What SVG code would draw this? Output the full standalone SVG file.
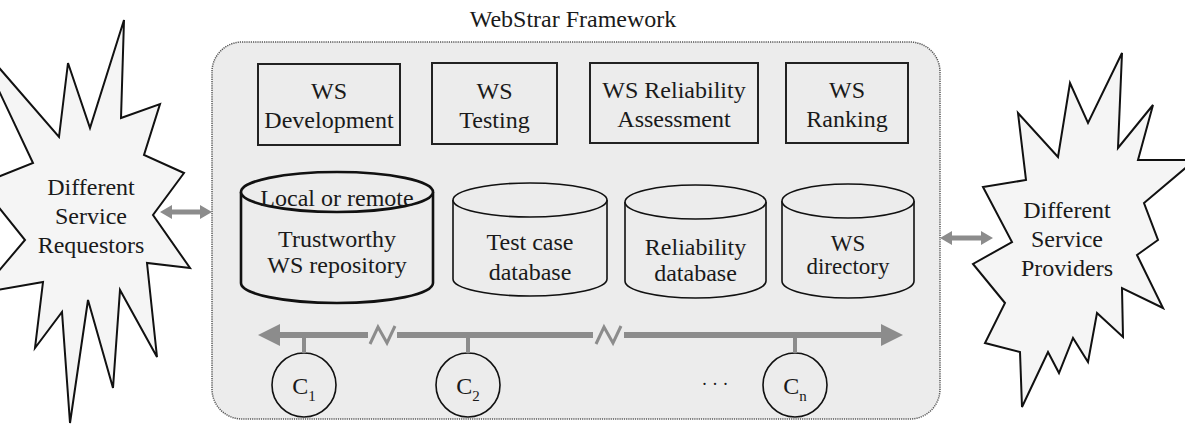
<svg xmlns="http://www.w3.org/2000/svg" width="1185" height="429" viewBox="0 0 1185 429">
<defs>
<style>
text{font-family:'Liberation Serif','Times New Roman','DejaVu Serif',serif;font-size:24px;fill:#1a1a1a;text-anchor:middle}
.star{fill:#f5f5f5;stroke:#111;stroke-width:2;stroke-linejoin:miter}
.box{fill:none;stroke:#222;stroke-width:2}
.cyl{fill:#ececec;stroke:#111;stroke-width:1.6}
.cylb{fill:#ececec;stroke:#111;stroke-width:2.6}
.gray{fill:#8c8c8c}
.bus{stroke:#8c8c8c;stroke-width:6;fill:none}
.stem{stroke:#8c8c8c;stroke-width:4}
.brk{stroke:#8c8c8c;stroke-width:3;fill:none}
.node{fill:none;stroke:#111;stroke-width:1.6}
</style>
</defs>
<rect width="1185" height="429" fill="#ffffff"/>
<g font-family="'Liberation Serif','Times New Roman','DejaVu Serif',serif">

<g id="framework">
<rect x="212" y="42" width="728" height="377" rx="30" fill="#ececec" stroke="#555" stroke-width="1.5" stroke-dasharray="1.2 1"/>
<text x="573" y="27">WebStrar Framework</text>
</g>

<g id="requestors">
<polygon class="star" points="-25,40 59,137 68,63 90,128 124,20 121,118 160,104 144,155 184,173 153,215 190,268 147,263 157,357 120,290 113,388 88,300 70,423 62,312 35,348 43,282 -20,293 25,240 -20,184 33,163"/>
<text x="91" y="195">Different</text>
<text x="91" y="224">Service</text>
<text x="91" y="253">Requestors</text>
</g>

<g id="providers">
<polygon class="star" points="1122,53 1118,148 1153,105 1138,160 1195,160 1144,203 1158,240 1137,255 1163,308 1122,288 1123,337 1097,313 1088,362 1073,338 1059,373 1048,352 1022,407 1020,352 985,343 1005,303 973,264 1012,242 983,187 1026,180 1018,113 1058,157 1070,83 1088,123"/>
<text x="1067" y="218">Different</text>
<text x="1067" y="247">Service</text>
<text x="1067" y="276">Providers</text>
</g>

<g id="ws-development">
<rect class="box" x="258" y="64" width="142" height="81"/>
<text x="329" y="99">WS</text>
<text x="329" y="128">Development</text>
</g>
<g id="ws-testing">
<rect class="box" x="432" y="63" width="125" height="81"/>
<text x="494.5" y="99">WS</text>
<text x="494.5" y="128">Testing</text>
</g>
<g id="ws-reliability">
<rect class="box" x="590" y="63" width="168" height="80"/>
<text x="674" y="98">WS Reliability</text>
<text x="674" y="127">Assessment</text>
</g>
<g id="ws-ranking">
<rect class="box" x="786" y="63" width="122" height="80"/>
<text x="847" y="98">WS</text>
<text x="847" y="127">Ranking</text>
</g>

<g id="trustworthy-repository">
<path class="cylb" d="M241,192 L241,283 A96,20 0 0 0 433,283 L433,192"/>
<ellipse class="cylb" cx="337" cy="192" rx="96" ry="20"/>
<text x="337" y="206">Local or remote</text>
<text x="337" y="247">Trustworthy</text>
<text x="337" y="273">WS repository</text>
</g>
<g id="test-case-db">
<path class="cyl" d="M453,200 L453,279 A77,17 0 0 0 607,279 L607,200"/>
<ellipse class="cyl" cx="530" cy="200" rx="77" ry="17"/>
<text x="530" y="250">Test case</text>
<text x="530" y="280">database</text>
</g>
<g id="reliability-db">
<path class="cyl" d="M625,202 L625,281 A70.5,17 0 0 0 766,281 L766,202"/>
<ellipse class="cyl" cx="695.5" cy="202" rx="70.5" ry="17"/>
<text x="695.5" y="255">Reliability</text>
<text x="695.5" y="281">database</text>
</g>
<g id="ws-directory">
<path class="cyl" d="M782,201 L782,281 A66,17 0 0 0 914,281 L914,201"/>
<ellipse class="cyl" cx="848" cy="201" rx="66" ry="17"/>
<text x="848" y="251" style="font-size:23px">WS</text>
<text x="848" y="274" style="font-size:23px">directory</text>
</g>

<g id="c1">
<ellipse class="node" cx="304" cy="385" rx="32" ry="32"/>
<text x="304" y="394">C<tspan font-size="15" dy="7">1</tspan></text>
</g>
<g id="c2">
<ellipse class="node" cx="468" cy="385" rx="32" ry="32"/>
<text x="468" y="394">C<tspan font-size="15" dy="7">2</tspan></text>
</g>
<g id="cn">
<ellipse class="node" cx="795" cy="385" rx="32" ry="32"/>
<text x="795" y="394">C<tspan font-size="15" dy="7">n</tspan></text>
</g>
<text x="715" y="390" style="font-size:18px">· · ·</text>

<g id="connectors">
<polygon class="gray" points="160,212 172,205 172,209.5 200,209.5 200,205 212,212 200,219 200,214.5 172,214.5 172,219"/>
<polygon class="gray" points="940,238 952,231 952,235.5 981,235.5 981,231 993,238 981,245 981,240.5 952,240.5 952,245"/>
<path class="bus" d="M278,335 H368 M397,335 H593 M624,335 H884"/>
<polygon class="gray" points="258,335 280,324 280,346"/>
<polygon class="gray" points="903,335 881,324 881,346"/>
<polyline class="brk" points="370,344 378,327 387,343 395,326"/>
<polyline class="brk" points="596,344 604,327 613,343 621,326"/>
<line class="stem" x1="304" y1="335" x2="304" y2="353"/>
<line class="stem" x1="468" y1="335" x2="468" y2="353"/>
<line class="stem" x1="795" y1="335" x2="795" y2="353"/>
</g>
</g>
</svg>
